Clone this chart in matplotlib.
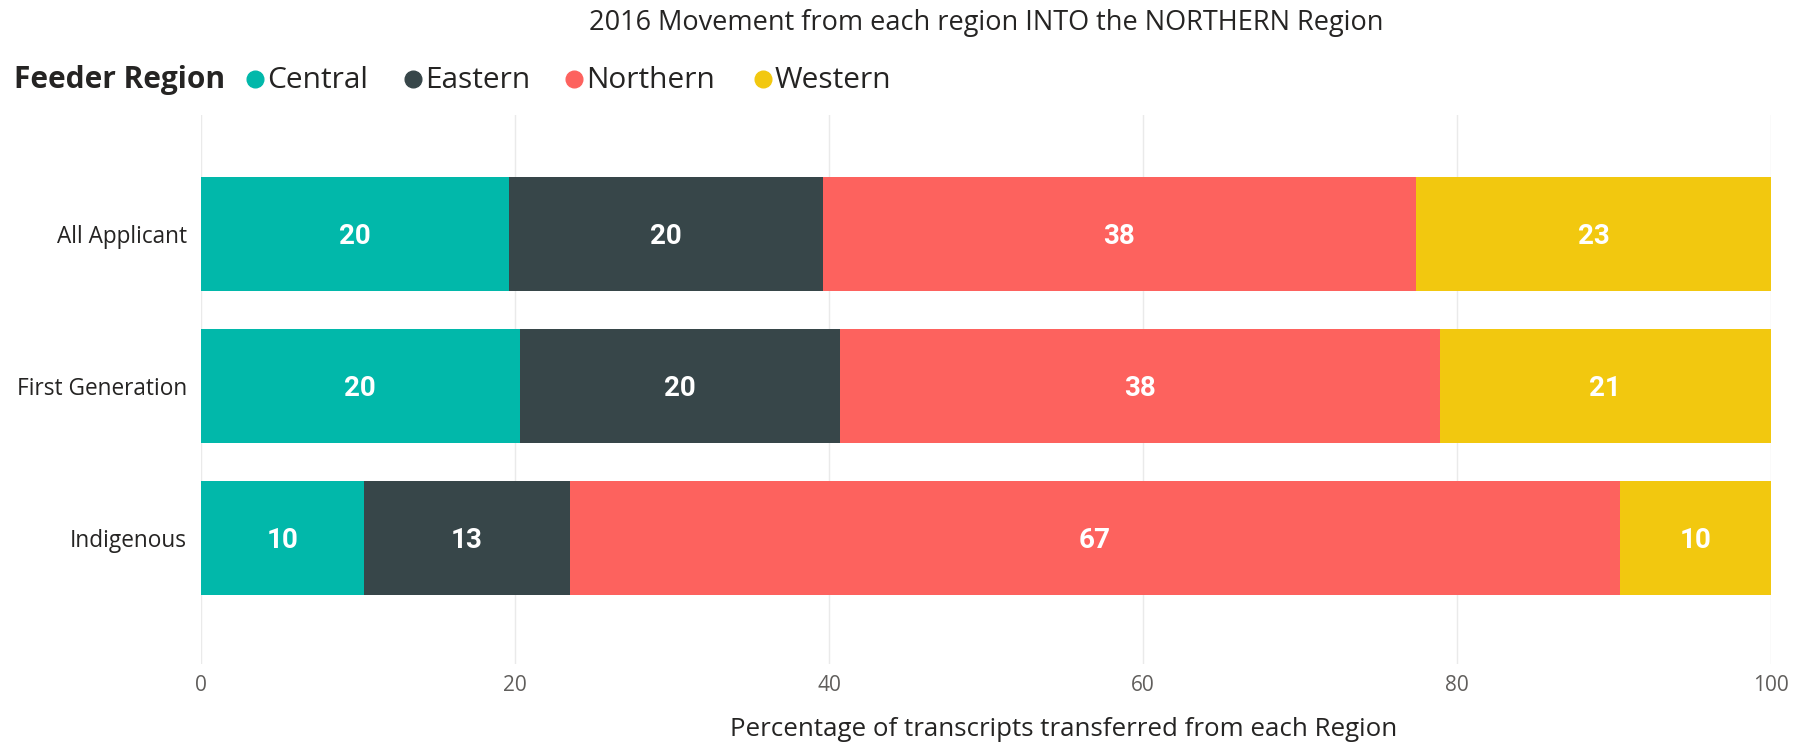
import matplotlib.pyplot as plt
from matplotlib.lines import Line2D
import numpy as np

# data (percent of transcripts per feeder region)
groups = ['All Applicant', 'First Generation', 'Indigenous']
regions = ['Central', 'Eastern', 'Northern', 'Western']
colors = ['#01B8AA', '#374649', '#FD625E', '#F2C80F']
central = [19.6, 20.3, 10.4]
eastern = [20.0, 20.4, 13.1]
northern = [37.8, 38.2, 66.9]
western = [22.6, 21.1, 9.6]
xticks = [0, 20, 40, 60, 80, 100]

plt.rcParams['font.family'] = ['Open Sans', 'DejaVu Sans']

fig = plt.figure(figsize=(18.1, 7.45), dpi=100)
ax = fig.add_axes([201 / 1810, 1 - 664 / 745, 1570 / 1810, 549 / 745])

y = np.arange(len(groups))
left = np.zeros(len(groups))
for vals, c in zip([central, eastern, northern, western], colors):
    vals = np.array(vals)
    ax.barh(y, vals, left=left, height=0.75, color=c, zorder=2)
    # value labels in the middle of each segment
    for yi, x0, v in zip(y, left, vals):
        ax.text(x0 + v / 2, yi, '{:.0f}'.format(v), ha='center', va='center_baseline',
                color='white', fontsize=20, fontweight='bold', family='Roboto', zorder=3)
    left += vals

ax.set_xlim(0, 100)
ax.set_ylim(2.83, -0.78)
ax.set_xticks(xticks)
ax.set_yticks(y)
ax.set_yticklabels(groups, fontsize=16.3, color='#252423')
ax.tick_params(axis='x', labelsize=15, colors='#605E5C', length=0, pad=8)
ax.tick_params(axis='y', length=0, pad=10)
ax.grid(axis='x', color='#EAEAEA', lw=1, zorder=0)
for s in ax.spines.values():
    s.set_visible(False)

fig.text(986 / 1810, 1 - 23 / 745, '2016 Movement from each region INTO the NORTHERN Region',
         ha='center', va='center', fontsize=19.5, color='#252423')
fig.text(1064 / 1810, 1 - 729 / 745, 'Percentage of transcripts transferred from each Region',
         ha='center', va='center', fontsize=18.6, color='#252423')

# legend drawn by hand
fig.text(14 / 1810, 1 - 80 / 745, 'Feeder Region', ha='left', va='center',
         fontsize=21.5, fontweight='bold', color='#252423')
dot_x = [255, 413, 574, 763]
for name, c, dx in zip(regions, colors, dot_x):
    fig.add_artist(Line2D([dx / 1810], [1 - 79 / 745], marker='o', markersize=12,
                          color=c, transform=fig.transFigure))
    fig.text((dx + 12) / 1810, 1 - 80 / 745, name, ha='left', va='center',
             fontsize=21.5, color='#252423')

fig.savefig('out.png')
